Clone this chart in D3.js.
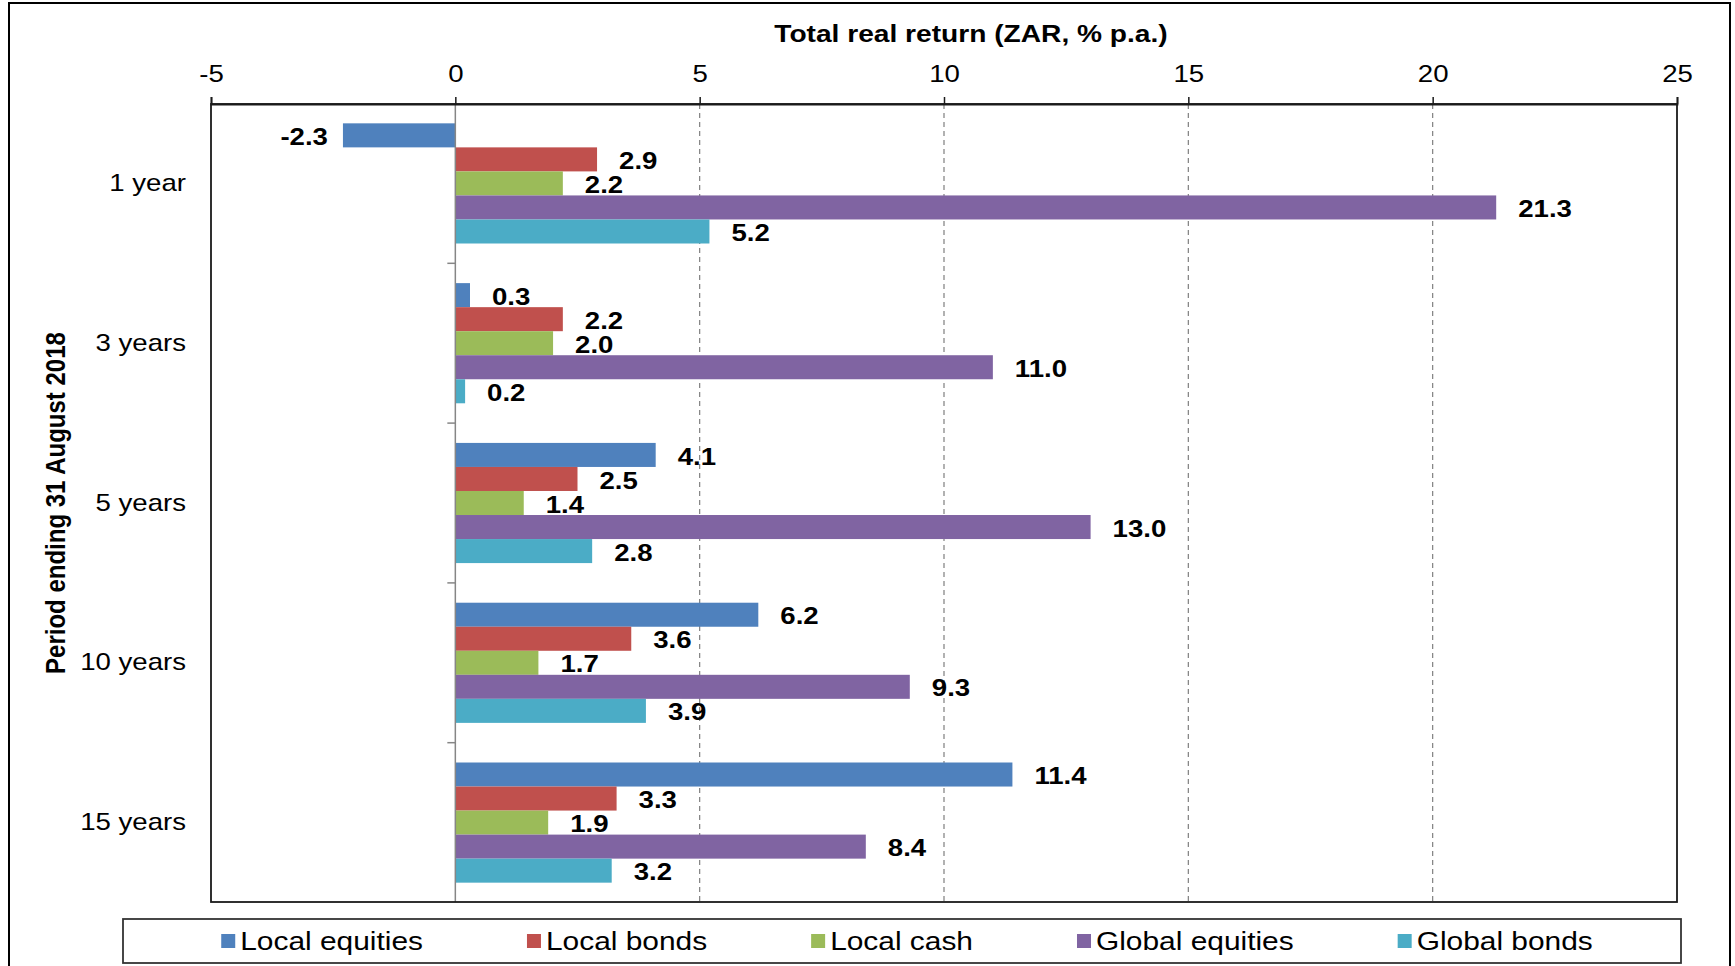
<!DOCTYPE html>
<html>
<head>
<meta charset="utf-8">
<script src="https://d3js.org/d3.v7.min.js"></script>
<style>
    body { margin: 0; background: #ffffff; }
    text { font-family: "Liberation Sans", Arial, sans-serif; fill: #000000; }
</style>
</head>
<body>
<svg id="svg_bars"></svg>
<script>
// data
let categories = ["1 year", "3 years", "5 years", "10 years", "15 years"];
let seriesNames = ["Local equities", "Local bonds", "Local cash", "Global equities", "Global bonds"];
let seriesColors = ["#4F81BD", "#C0504D", "#9BBB59", "#8064A2", "#4BACC6"];
let localEquities = [-2.3, 0.3, 4.1, 6.2, 11.4];
let localBonds = [2.9, 2.2, 2.5, 3.6, 3.3];
let localCash = [2.2, 2.0, 1.4, 1.7, 1.9];
let globalEquities = [21.3, 11.0, 13.0, 9.3, 8.4];
let globalBonds = [5.2, 0.2, 2.8, 3.9, 3.2];
let xTicks = [-5, 0, 5, 10, 15, 20, 25];

let seriesValues = [localEquities, localBonds, localCash, globalEquities, globalBonds];

let width = 1735;
let height = 966;
let plot = {left: 211, right: 1677, top: 104, bottom: 902};
let sx = 1.15; // the original text is stretched sideways

let svg = d3.select("#svg_bars")
    .attr("width", width)
    .attr("height", height);

// outer frame
svg.append("rect")
    .attr("x", 9).attr("y", 3)
    .attr("width", 1721).attr("height", 1000)
    .attr("fill", "none").attr("stroke", "#000").attr("stroke-width", 2);

let x = d3.scaleLinear()
    .domain([xTicks[0], xTicks[xTicks.length - 1]])
    .range([plot.left, plot.right]);

let y0 = d3.scaleBand()
    .domain(categories)
    .range([plot.top, plot.bottom])
    .paddingInner(0.248)
    .paddingOuter(0.121);

let y1 = d3.scaleBand()
    .domain(seriesNames)
    .range([0, y0.bandwidth()]);

// dashed gridlines
svg.append("g")
    .selectAll("line")
    .data(xTicks.filter(d => d > 0 && d < 25))
    .enter().append("line")
    .attr("x1", d => x(d)).attr("x2", d => x(d))
    .attr("y1", plot.top).attr("y2", plot.bottom)
    .attr("stroke", "#7f7f7f")
    .attr("stroke-width", 1.2)
    .attr("stroke-dasharray", "5,4");

// bars
let rows = [];
categories.forEach((c, i) => {
    seriesNames.forEach((s, j) => {
        rows.push({cat: c, series: s, value: seriesValues[j][i], color: seriesColors[j]});
    });
});

svg.append("g")
    .selectAll("rect")
    .data(rows)
    .enter().append("rect")
    .attr("x", d => x(Math.min(0, d.value)))
    .attr("y", d => y0(d.cat) + y1(d.series))
    .attr("width", d => Math.abs(x(d.value) - x(0)))
    .attr("height", y1.bandwidth())
    .attr("fill", d => d.color);

// zero line and category ticks
svg.append("line")
    .attr("x1", x(0)).attr("x2", x(0))
    .attr("y1", plot.top).attr("y2", plot.bottom)
    .attr("stroke", "#868686").attr("stroke-width", 1.5);

svg.append("g")
    .selectAll("line")
    .data(categories.slice(1))
    .enter().append("line")
    .attr("x1", x(0) - 8).attr("x2", x(0))
    .attr("y1", d => y0(d) - y0.step() * y0.paddingInner() / 2)
    .attr("y2", d => y0(d) - y0.step() * y0.paddingInner() / 2)
    .attr("stroke", "#868686").attr("stroke-width", 1.5);

// plot border
svg.append("rect")
    .attr("x", plot.left).attr("y", plot.top)
    .attr("width", plot.right - plot.left).attr("height", plot.bottom - plot.top)
    .attr("fill", "none").attr("stroke", "#1a1a1a").attr("stroke-width", 1.8);

// value labels
svg.append("g")
    .selectAll("text")
    .data(rows)
    .enter().append("text")
    .attr("transform", d => "translate(" + (d.value < 0 ? x(d.value) - 15 : x(d.value) + 22) + ","
        + (y0(d.cat) + y1(d.series) + y1.bandwidth() / 2 + 1) + ") scale(" + sx + ",1)")
    .attr("text-anchor", d => d.value < 0 ? "end" : "start")
    .attr("dy", "0.36em")
    .style("font-size", "24px")
    .style("font-weight", "bold")
    .text(d => d.value.toFixed(1));

// top value axis
let xAxis = svg.append("g")
    .attr("transform", "translate(0," + plot.top + ")")
    .call(d3.axisTop(x).tickValues(xTicks).tickSize(7).tickPadding(15).tickFormat(d3.format("d")));
xAxis.select(".domain").attr("stroke", "#1a1a1a").attr("stroke-width", 1.8);
xAxis.selectAll(".tick line").attr("stroke", "#1a1a1a").attr("stroke-width", 1.5);
xAxis.selectAll(".tick text")
    .attr("transform", "scale(" + sx + ",1)")
    .attr("fill", "#000")
    .style("font-size", "24px")
    .style("font-family", "'Liberation Sans', Arial, sans-serif")
    .text(d => d < 0 ? "-" + Math.abs(d) : d);

// axis title
svg.append("text")
    .attr("transform", "translate(" + ((plot.left + plot.right) / 2 + 27) + ",42) scale(" + (sx * 1.02) + ",1)")
    .attr("text-anchor", "middle")
    .style("font-size", "24px")
    .style("font-weight", "bold")
    .text("Total real return (ZAR, % p.a.)");

// category labels
svg.append("g")
    .selectAll("text")
    .data(categories)
    .enter().append("text")
    .attr("transform", d => "translate(186," + (y0(d) + y0.bandwidth() / 2 - 1) + ") scale(" + sx + ",1)")
    .attr("text-anchor", "end")
    .attr("dy", "0.36em")
    .style("font-size", "24px")
    .text(d => d);

svg.append("text")
    .attr("transform", "translate(55," + ((plot.top + plot.bottom) / 2) + ") scale(" + sx + ",1) rotate(-90)")
    .attr("text-anchor", "middle")
    .attr("dy", "0.36em")
    .style("font-size", "24px")
    .style("font-weight", "bold")
    .text("Period ending 31 August 2018");

// legend
let legendBox = {left: 123, right: 1681, top: 919, bottom: 963};
svg.append("rect")
    .attr("x", legendBox.left).attr("y", legendBox.top)
    .attr("width", legendBox.right - legendBox.left).attr("height", legendBox.bottom - legendBox.top)
    .attr("fill", "#fff").attr("stroke", "#333").attr("stroke-width", 1.8);

let legendG = svg.append("g");
let items = legendG.selectAll("g")
    .data(seriesNames)
    .enter().append("g");
items.append("rect")
    .attr("width", 14).attr("height", 14)
    .attr("y", -7)
    .attr("fill", (d, i) => seriesColors[i]);
items.append("text")
    .attr("transform", "translate(19,0) scale(" + sx + ",1)")
    .attr("dy", "0.36em")
    .style("font-size", "26px")
    .text(d => d);

// place legend entries one after another, centred in the box
let gap = 104;
let pos = 0;
items.each(function () {
    let w = 19 + d3.select(this).select("text").node().getComputedTextLength() * sx;
    d3.select(this).attr("data-x", pos);
    pos += w + gap;
});
let total = pos - gap;
let startX = (legendBox.left + legendBox.right) / 2 + 5 - total / 2;
items.attr("transform", function () {
    return "translate(" + (startX + +d3.select(this).attr("data-x")) + "," + ((legendBox.top + legendBox.bottom) / 2) + ")";
});
</script>
</body>
</html>
